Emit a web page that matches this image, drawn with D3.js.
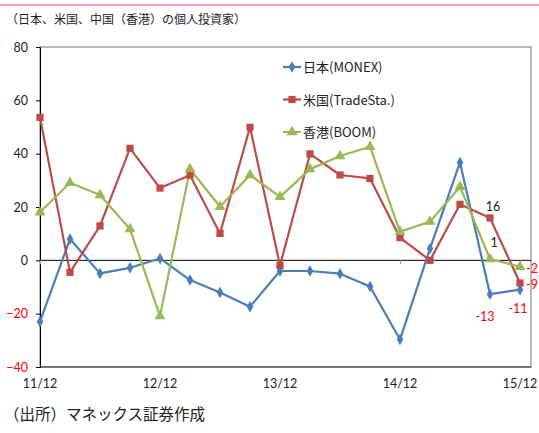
<!DOCTYPE html>
<html>
<head>
<meta charset="utf-8">
<script src="https://cdn.jsdelivr.net/npm/d3@7"></script>
<style>
  body { margin: 0; background: #fff; }
  svg { display: block; }
</style>
</head>
<body>
<svg id="chart" width="539" height="433"></svg>
<script>
var categories = ['11/12', '12/3', '12/6', '12/9', '12/12', '13/3', '13/6', '13/9', '13/12',
    '14/3', '14/6', '14/9', '14/12', '15/3', '15/6', '15/9', '15/12'];
var tickLabels = ['11/12', '12/12', '13/12', '14/12', '15/12'];
var yTicks = [-40, -20, 0, 20, 40, 60, 80];

var japan = [-23, 8, -4.9, -2.8, 0.7, -7.4, -12.1, -17.4, -4, -4, -5, -9.8, -29.7, 4.4, 36.7, -12.7, -11];
var usa = [53.6, -4.5, 12.9, 42, 27.1, 31.9, 10.1, 49.9, -1.9, 39.9, 32, 30.7, 8.5, 0, 21, 15.9, -8.5];
var hongkong = [18, 29.1, 24.5, 11.7, -20.9, 34.2, 20.1, 32, 23.8, 34.2, 39.1, 42.6, 10.7, 14.5, 27.6, 0.5, -2.4];

var seriesNames = ['日本(MONEX)', '米国(TradeSta.)', '香港(BOOM)'];
var colors = ['#4a7ebb', '#be4b48', '#98b954'];
var shapes = [d3.symbolDiamond, d3.symbolSquare, d3.symbolTriangle];

var svg = d3.select('#chart');
var numFont = 'Lato, "Liberation Sans", sans-serif';
var jpFont = '"Noto Sans CJK JP", sans-serif';

// pink rule at top
svg.append('line')
    .attr('x1', 0).attr('x2', 539)
    .attr('y1', 5).attr('y2', 5)
    .attr('stroke', '#f79ccb')
    .attr('stroke-width', 2);

svg.append('text')
    .attr('x', 6).attr('y', 24)
    .attr('font-family', jpFont)
    .attr('font-size', 12)
    .attr('fill', '#222')
    .text('（日本、米国、中国（香港）の個人投資家）');

svg.append('text')
    .attr('x', 4).attr('y', 420)
    .attr('font-family', jpFont)
    .attr('font-size', 15.5)
    .attr('fill', '#222')
    .text('（出所）マネックス証券作成');

var x = d3.scaleLinear().domain([0, categories.length - 1]).range([40, 520]);
var y = d3.scaleLinear().domain([-40, 80]).range([367, 47]);

// plot frame
svg.append('rect')
    .attr('x', 40).attr('y', 47)
    .attr('width', 491).attr('height', 320)
    .attr('fill', 'none')
    .attr('stroke', '#8c8c8c')
    .attr('stroke-width', 1.2);

svg.append('line')
    .attr('x1', 40).attr('x2', 531)
    .attr('y1', y(-40)).attr('y2', y(-40))
    .attr('stroke', '#333');

// y axis
var yAxis = svg.append('g')
    .attr('transform', 'translate(40,0)')
    .call(d3.axisLeft(y).tickValues(yTicks).tickSize(4).tickPadding(8).tickFormat(d3.format('d')));
yAxis.select('.domain').attr('stroke', '#000');
yAxis.selectAll('.tick line').attr('stroke', '#000');
yAxis.selectAll('text')
    .attr('font-family', numFont)
    .attr('font-size', 12.5)
    .attr('fill', function(d) {
        return d < 0 ? '#ff0000' : '#222';
    });

// zero line with category ticks
var xAxis = svg.append('g')
    .attr('transform', 'translate(0,' + y(0) + ')')
    .call(d3.axisBottom(x)
        .tickValues(tickLabels.map(function(t) { return categories.indexOf(t); }))
        .tickSize(4)
        .tickFormat(''));
xAxis.select('.domain').attr('stroke', '#000').attr('d', 'M40,0H531');
xAxis.selectAll('.tick line').attr('stroke', '#999');

// category labels along the bottom
svg.selectAll('.xlab')
    .data(tickLabels)
    .enter()
    .append('text')
    .attr('class', 'xlab')
    .attr('x', function(d) { return x(categories.indexOf(d)); })
    .attr('y', 388)
    .attr('text-anchor', 'middle')
    .attr('font-family', numFont)
    .attr('font-size', 12.5)
    .attr('fill', '#222')
    .text(function(d) { return d; });

var allSeries = [japan, usa, hongkong];
var line = d3.line()
    .x(function(d, i) { return x(i); })
    .y(function(d) { return y(d); });

allSeries.forEach(function(values, k) {
    svg.append('path')
        .datum(values)
        .attr('d', line)
        .attr('fill', 'none')
        .attr('stroke', colors[k])
        .attr('stroke-width', 2.2)
        .attr('stroke-linejoin', 'round');
});

allSeries.forEach(function(values, k) {
    var size = k === 0 ? 38 : 52;
    svg.selectAll('.m' + k)
        .data(values)
        .enter()
        .append('path')
        .attr('class', 'm' + k)
        .attr('transform', function(d, i) { return 'translate(' + x(i) + ',' + y(d) + ')'; })
        .attr('d', d3.symbol().type(shapes[k]).size(size))
        .attr('fill', colors[k]);
});

// legend
var legend = svg.selectAll('.legend')
    .data(seriesNames)
    .enter()
    .append('g')
    .attr('class', 'legend')
    .attr('transform', function(d, i) { return 'translate(283,' + (67 + i * 32.5) + ')'; });
legend.append('line')
    .attr('x1', 0).attr('x2', 18)
    .attr('stroke', function(d, i) { return colors[i]; })
    .attr('stroke-width', 2.2);
legend.append('path')
    .attr('transform', 'translate(9,0)')
    .attr('d', function(d, i) { return d3.symbol().type(shapes[i]).size(i === 0 ? 38 : 52)(); })
    .attr('fill', function(d, i) { return colors[i]; });
legend.append('text')
    .attr('x', 20).attr('y', 5)
    .attr('font-family', jpFont)
    .attr('font-size', 13)
    .attr('fill', '#222')
    .text(function(d) { return d; });

// data labels for the last points
var last = categories.length - 1;
var dataLabels = [
    { s: usa, i: last - 1, text: '16', dx: 3, dy: -7, color: '#222' },
    { s: hongkong, i: last - 1, text: '1', dx: 4, dy: -12, color: '#222' },
    { s: japan, i: last - 1, text: '-13', dx: -5, dy: 27, color: '#ff0000' },
    { s: japan, i: last, text: '-11', dx: -2, dy: 23, color: '#ff0000' },
    { s: hongkong, i: last, text: '-2', dx: 12, dy: 6, color: '#ff0000' },
    { s: usa, i: last, text: '-9', dx: 12, dy: 6, color: '#ff0000' }
];
svg.selectAll('.dlab')
    .data(dataLabels)
    .enter()
    .append('text')
    .attr('class', 'dlab')
    .attr('x', function(d) { return x(d.i) + d.dx; })
    .attr('y', function(d) { return y(d.s[d.i]) + d.dy; })
    .attr('text-anchor', 'middle')
    .attr('font-family', numFont)
    .attr('font-size', 12.5)
    .attr('fill', function(d) { return d.color; })
    .text(function(d) { return d.text; });
</script>
</body>
</html>
